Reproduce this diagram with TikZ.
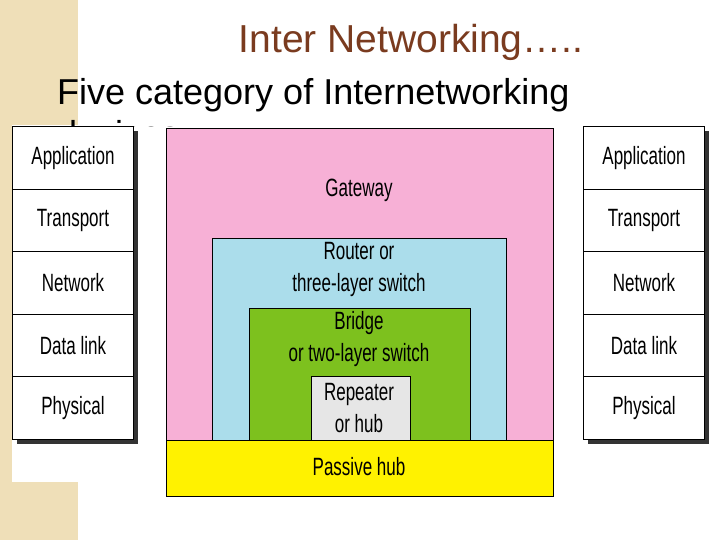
\documentclass[tikz,border=0pt]{standalone}
\usepackage{fontspec}
\setmainfont{Liberation Sans}
\newfontfamily\cond{Liberation Sans}[FakeStretch=0.68]
\definecolor{beige}{HTML}{EFDFB8}
\definecolor{pinkc}{HTML}{F7B0D6}
\definecolor{bluec}{HTML}{ABDDEB}
\definecolor{greenc}{HTML}{7DC11E}
\definecolor{greyc}{HTML}{E6E6E6}
\definecolor{titlec}{HTML}{7A3B1F}
\begin{document}
\begin{tikzpicture}[x=1pt,y=-1pt,
  lay/.style={draw=black,line width=1pt,fill=white},
  blk/.style={draw=black,line width=1pt},
  lbl/.style={font=\cond\fontsize{25}{32}\selectfont,align=center,text=black,inner sep=0pt}]
\useasboundingbox (0,0) rectangle (720,540);
\fill[white] (0,0) rectangle (720,540);
\fill[beige] (0,0) rectangle (78,540);
\fill[white] (12,125) rectangle (78,482);
\begin{scope}
\clip (0,0) rectangle (720,127);
\node[anchor=base west,font=\fontsize{36}{37}\selectfont,inner sep=0pt] (l2) at (57,147) {devices};
\end{scope}
\node[text=titlec,font=\fontsize{39}{40}\selectfont] (title) at (411,42) {Inter Networking\dots..};
\node[anchor=base west,font=\fontsize{36}{37}\selectfont,inner sep=0pt] (sub) at (57,105) {Five category of Internetworking};
% stacks
\foreach \x/\s in {12/L,583/R}{
  \fill[black!80] (\x+5,131) rectangle (\x+126,444);
  \foreach \t [count=\i from 0] in {Application,Transport,Network,Data link,Physical}{
    \draw[lay] (\x,127+62.4*\i) rectangle (\x+121,127+62.4*\i+62.4);
    \node[lbl] (\s\i) at (\x+61,158+62.4*\i) {\t};
  }
}
% center
\draw[blk,fill=pinkc] (166,129) rectangle (553,440);
\draw[blk,fill=yellow] (166,440) rectangle (553,496);
\draw[blk,fill=bluec] (212,238) rectangle (506,440);
\draw[blk,fill=greenc] (249,308) rectangle (470,440);
\draw[blk,fill=greyc] (311,376) rectangle (410,440);
\node[lbl] (gw) at (359,190) {Gateway};
\node[lbl] (rt) at (359,269) {Router or\\three-layer switch};
\node[lbl] (br) at (359,339) {Bridge\\or two-layer switch};
\node[lbl] (rp) at (359,408) {Repeater\\or hub};
\node[lbl] (ph) at (359,467) {Passive hub};
\end{tikzpicture}
\end{document}
